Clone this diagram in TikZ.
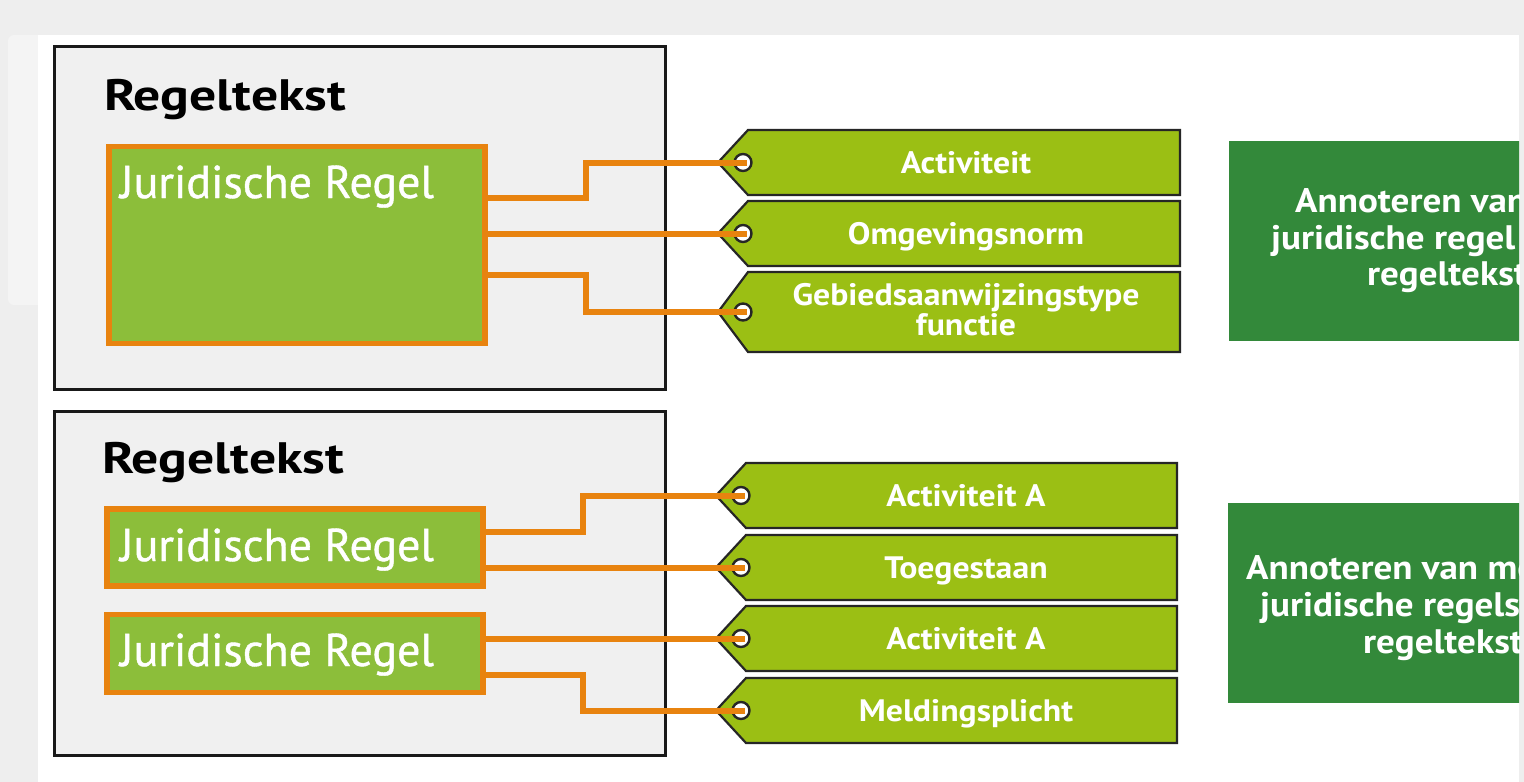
\documentclass[tikz,border=0pt]{standalone}
\usepackage{fontspec}
\setmainfont{PT Sans}
\newfontfamily\widefont{PT Sans}[FakeStretch=1.22]
\newfontfamily\semiwide{PT Sans}[FakeStretch=1.09]
\newfontfamily\mediumfont{PT Sans}[FakeBold=0.9]
\usetikzlibrary{calc}
\definecolor{bggrey}{HTML}{EEEEEE}
\definecolor{bglight}{HTML}{F4F4F4}
\definecolor{boxgrey}{HTML}{F0F0F0}
\definecolor{jgreen}{HTML}{8CBE3A}
\definecolor{jorange}{HTML}{E8830F}
\definecolor{tgreen}{HTML}{9BBF14}
\definecolor{dgreen}{HTML}{33893A}
\definecolor{tborder}{HTML}{262626}
\begin{document}
\begin{tikzpicture}[x=1pt,y=-1pt,
  outerbox/.style={draw=black!90, line width=3.5pt, fill=boxgrey, inner sep=0pt, anchor=north west},
  jrbox/.style={draw=jorange, line width=5.5pt, fill=jgreen, inner sep=0pt, anchor=north west},
  titletext/.style={font=\fontsize{44}{44}\selectfont\widefont\bfseries, text=black, inner sep=0pt, anchor=base west},
  jrtext/.style={font=\fontsize{46}{46}\selectfont\mediumfont, text=white, inner sep=0pt, anchor=base west},
  tagshape/.style={draw=tborder, line width=2.2pt, fill=tgreen, line join=miter},
  tagtext/.style={font=\fontsize{31}{28}\selectfont\semiwide\bfseries, text=white, inner sep=0pt, anchor=base, align=center},
  hole/.style={circle, draw=tborder, line width=2.4pt, fill=white, minimum size=17pt, inner sep=0pt},
  conn/.style={draw=jorange, line width=6pt, line join=miter},
  annot/.style={fill=dgreen, draw=none, inner sep=0pt, anchor=north west},
  annottext/.style={font=\fontsize{34}{34}\selectfont\semiwide\bfseries, text=white, inner sep=0pt, anchor=base west}
]
\useasboundingbox (0,0) rectangle (1524,782);
% background
\fill[bggrey] (0,0) rectangle (1524,782);
\fill[bglight, rounded corners=6pt] (8,35) rectangle (60,305);
\fill[white] (38,35) rectangle (1519,782);

% ---------- top group ----------
\node[outerbox, minimum width=611pt, minimum height=343pt] (rt1) at (52.5,44.5) {};
\node[titletext] (rt1t) at (104,110) {Regeltekst};
\node[jrbox, minimum width=376pt, minimum height=197pt] (jr1) at (106,143.5) {};
\node[jrtext] (jr1t) at (120,198) {Juridische Regel};

% tags
\draw[tagshape] (748,130) -- (1180,130) -- (1180,195) -- (748,195) -- (718,162.5) -- cycle;
\node[tagtext] (a1) at (966,173) {Activiteit};
\node[hole] (a1h) at (743,162.5) {};
\draw[tagshape] (748,201) -- (1180,201) -- (1180,266) -- (748,266) -- (718,233.5) -- cycle;
\node[tagtext] (a2) at (966,244) {Omgevingsnorm};
\node[hole] (a2h) at (743,233.5) {};
\draw[tagshape] (748,272) -- (1180,272) -- (1180,352) -- (748,352) -- (718,312) -- cycle;
\node[tagtext] (a3) at (966,335) {Gebiedsaanwijzingstype\\functie};
\node[hole] (a3h) at (743,312) {};

% connectors
\draw[conn] (jr1.east |- 0,198) -- (586,198) |- ([xshift=4pt]a1h.center);
\draw[conn] (jr1.east |- a2h) -- ([xshift=4pt]a2h.center);
\draw[conn] (jr1.east |- 0,275) -- (586,275) |- ([xshift=4pt]a3h.center);

% ---------- bottom group ----------
\node[outerbox, minimum width=611pt, minimum height=344pt] (rt2) at (52.5,409.5) {};
\node[titletext] (rt2t) at (102,473) {Regeltekst};
\node[jrbox, minimum width=376pt, minimum height=77pt] (jr2) at (104,506) {};
\node[jrtext] (jr2t) at (120,561) {Juridische Regel};
\node[jrbox, minimum width=376pt, minimum height=78pt] (jr3) at (104,611.5) {};
\node[jrtext] (jr3t) at (120,666) {Juridische Regel};

\draw[tagshape] (746,463) -- (1177,463) -- (1177,528) -- (746,528) -- (716,495.5) -- cycle;
\node[tagtext] (b1) at (966,506) {Activiteit A};
\node[hole] (b1h) at (741,495.5) {};
\draw[tagshape] (746,535) -- (1177,535) -- (1177,600) -- (746,600) -- (716,567.5) -- cycle;
\node[tagtext] (b2) at (966,578) {Toegestaan};
\node[hole] (b2h) at (741,567.5) {};
\draw[tagshape] (746,606) -- (1177,606) -- (1177,671) -- (746,671) -- (716,638.5) -- cycle;
\node[tagtext] (b3) at (966,649) {Activiteit A};
\node[hole] (b3h) at (741,638.5) {};
\draw[tagshape] (746,678) -- (1177,678) -- (1177,743) -- (746,743) -- (716,710.5) -- cycle;
\node[tagtext] (b4) at (966,721) {Meldingsplicht};
\node[hole] (b4h) at (741,710.5) {};

\draw[conn] (jr2.east |- 0,532) -- (583,532) |- ([xshift=4pt]b1h.center);
\draw[conn] (jr2.east |- b2h) -- ([xshift=4pt]b2h.center);
\draw[conn] (jr3.east |- b3h) -- ([xshift=4pt]b3h.center);
\draw[conn] (jr3.east |- 0,675) -- (583,675) |- ([xshift=4pt]b4h.center);

% ---------- annotation boxes (clipped at panel edge) ----------
\begin{scope}
\clip (0,0) rectangle (1519,782);
\node[annot, minimum width=320pt, minimum height=200pt] (n1) at (1229,141) {};
\node[annottext] (n1a) at (1295,212) {Annoteren van};
\node[annottext] (n1b) at (1271,249) {juridische regel};
\node[annottext] (n1c) at (1367,285) {regeltekst};
\node[annot, minimum width=320pt, minimum height=200pt] (n2) at (1228,503) {};
\node[annottext] (n2a) at (1246,579) {Annoteren van me};
\node[annottext] (n2b) at (1260,616) {juridische regels};
\node[annottext] (n2c) at (1363,653) {regeltekst};
\end{scope}
\end{tikzpicture}
\end{document}
